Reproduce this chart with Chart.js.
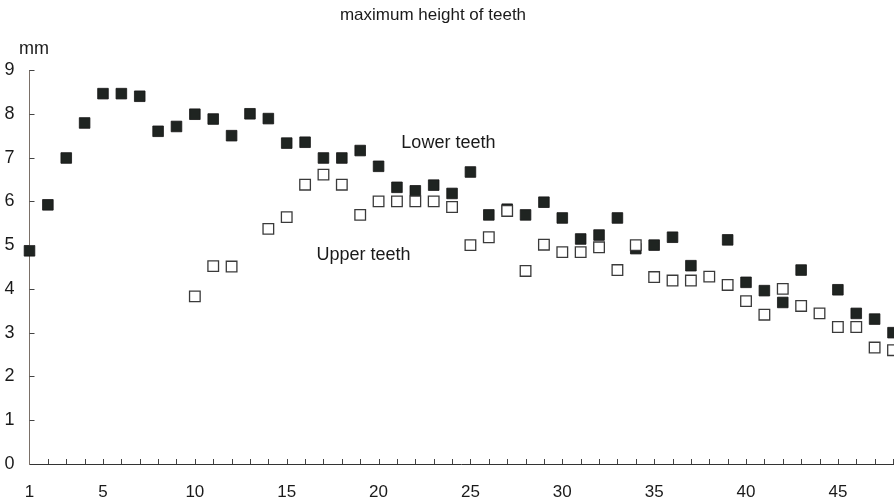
<!DOCTYPE html>
<html>
<head>
<meta charset="utf-8">
<script src="https://cdn.jsdelivr.net/npm/chart.js@4/dist/chart.umd.min.js"></script>
<style>
  html, body { margin: 0; padding: 0; background: #ffffff; }
  #wrap { position: relative; width: 894px; height: 504px; }
</style>
</head>
<body>
<div id="wrap"><canvas id="c" width="894" height="504"></canvas></div>
<script>
// Tooth position (1..48)
const positions = [1,2,3,4,5,6,7,8,9,10,11,12,13,14,15,16,17,18,19,20,21,22,23,24,25,26,27,28,29,30,31,32,33,34,35,36,37,38,39,40,41,42,43,44,45,46,47,48];
// Lower teeth (filled squares), mm
const lowerTeeth = [4.87,5.92,6.99,7.79,8.46,8.46,8.40,7.60,7.71,7.99,7.88,7.50,8.00,7.89,7.33,7.35,6.99,6.99,7.16,6.80,6.32,6.24,6.37,6.18,6.67,5.69,5.82,5.69,5.98,5.62,5.14,5.23,5.62,4.92,5.00,5.18,4.53,null,5.12,4.15,3.96,3.69,4.43,null,3.98,3.44,3.31,3.00];
// Upper teeth (open squares), mm
const upperTeeth = [null,null,null,null,null,null,null,null,null,3.83,4.52,4.51,null,5.37,5.64,6.38,6.61,6.38,5.69,6.00,6.00,6.00,6.00,5.87,5.00,5.18,5.78,4.41,5.01,4.84,4.84,4.95,4.43,5.00,4.27,4.19,4.19,4.28,4.09,3.72,3.41,4.00,3.61,3.44,3.13,3.13,2.66,2.60];
// Tick labels
const xTickLabels = [1,5,10,15,20,25,30,35,40,45];
const yTickValues = [0,1,2,3,4,5,6,7,8,9];

const titleText = 'maximum height of teeth';
const unitText = 'mm';
const lowerLabel = 'Lower teeth';
const upperLabel = 'Upper teeth';

const FONT = "'Liberation Sans', Arial, Helvetica, sans-serif";

function toPoints(vals) {
  const out = [];
  vals.forEach((v, i) => { if (v !== null) out.push({ x: positions[i], y: v }); });
  return out;
}

const decor = {
  id: 'decor',
  afterDraw(chart) {
    const { ctx, scales: { x, y } } = chart;
    ctx.save();
    // inward tick marks
    ctx.strokeStyle = '#444';
    ctx.lineWidth = 1;
    ctx.beginPath();
    yTickValues.forEach(v => {
      if (v === 0) return;
      const py = Math.round(y.getPixelForValue(v)) + 0.5;
      ctx.moveTo(x.left, py);
      ctx.lineTo(x.left + 5, py);
    });
    positions.forEach(v => {
      if (v === 1) return;
      const px = Math.round(x.getPixelForValue(v)) + 0.5;
      ctx.moveTo(px, y.bottom);
      ctx.lineTo(px, y.bottom - 5);
    });
    ctx.stroke();
    // texts
    ctx.fillStyle = '#1a1a1a';
    ctx.textBaseline = 'middle';
    ctx.textAlign = 'center';
    ctx.font = '17px ' + FONT;
    ctx.fillText(titleText, 433, 15);
    ctx.font = '18px ' + FONT;
    ctx.fillText(unitText, 34, 49);
    ctx.fillText(lowerLabel, x.getPixelForValue(23.8), y.getPixelForValue(7.34));
    ctx.fillText(upperLabel, x.getPixelForValue(19.18), y.getPixelForValue(4.78));
    ctx.restore();
  }
};

new Chart(document.getElementById('c'), {
  type: 'scatter',
  data: {
    datasets: [
      {
        label: upperLabel,
        data: toPoints(upperTeeth),
        pointStyle: 'rect',
        pointRadius: 7.5,
        pointHoverRadius: 7.5,
        backgroundColor: '#ffffff',
        borderColor: '#3a3a3a',
        borderWidth: 1.3,
        clip: false,
        order: 0
      },
      {
        label: lowerLabel,
        data: toPoints(lowerTeeth),
        pointStyle: 'rect',
        pointRadius: 7.5,
        pointHoverRadius: 7.5,
        backgroundColor: '#1f2421',
        borderColor: '#151515',
        borderWidth: 0.8,
        clip: false,
        order: 1
      }
    ]
  },
  options: {
    responsive: false,
    animation: false,
    events: [],
    layout: { autoPadding: false, padding: { top: 70, right: 1, left: 0, bottom: 0 } },
    plugins: { legend: { display: false }, tooltip: { enabled: false }, title: { display: false } },
    scales: {
      x: {
        type: 'linear',
        min: 1,
        max: 48,
        offset: false,
        grid: { display: false, drawTicks: true, tickLength: 18 },
        border: { display: true, color: '#333', width: 1 },
        afterFit(scale) { scale.height = 40; scale.paddingRight = 0; scale.paddingLeft = 0; },
        afterBuildTicks(scale) { scale.ticks = positions.map(v => ({ value: v })); },
        ticks: {
          autoSkip: false,
          maxRotation: 0,
          padding: 0,
          color: '#1a1a1a',
          font: { family: FONT, size: 17 },
          callback: (v) => xTickLabels.includes(v) ? String(v) : ''
        }
      },
      y: {
        min: 0,
        max: 9,
        grid: { display: false, drawTicks: false },
        border: { display: true, color: '#7a7068', width: 1 },
        afterFit(scale) { scale.width = 29.5; },
        afterBuildTicks(scale) { scale.ticks = yTickValues.map(v => ({ value: v })); },
        ticks: {
          padding: 15,
          color: '#1a1a1a',
          font: { family: FONT, size: 18 }
        }
      }
    }
  },
  plugins: [decor]
});
</script>
</body>
</html>
